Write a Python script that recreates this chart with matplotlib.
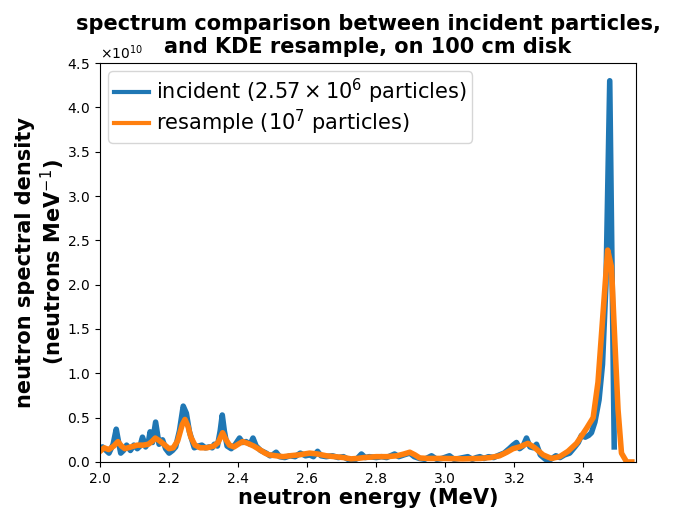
"""Incident neutron spectrum vs KDE resample on a 100 cm disk."""

import matplotlib
matplotlib.use('Agg')
import matplotlib.pyplot as plt
import numpy as np

SCALE = 1e10

# incident spectrum (MeV, units of 1e10 neutrons/MeV)
incident_energy = [
    2.000, 2.007, 2.015, 2.026, 2.038, 2.047, 2.054, 2.060, 2.068, 2.077,
    2.088, 2.098, 2.108, 2.116, 2.123, 2.132, 2.140, 2.145, 2.152, 2.161,
    2.171, 2.181, 2.190, 2.200, 2.210, 2.219, 2.230, 2.241, 2.250, 2.259,
    2.273, 2.285, 2.295, 2.305, 2.317, 2.325, 2.331, 2.340, 2.348, 2.354,
    2.360, 2.368, 2.380, 2.392, 2.404, 2.413, 2.423, 2.435, 2.443, 2.452,
    2.465, 2.481, 2.492, 2.500, 2.510, 2.520, 2.535, 2.550, 2.565, 2.580,
    2.595, 2.607, 2.618, 2.630, 2.640, 2.655, 2.673, 2.690, 2.705, 2.718,
    2.730, 2.745, 2.757, 2.768, 2.780, 2.800, 2.815, 2.830, 2.853, 2.865,
    2.880, 2.897, 2.910, 2.925, 2.940, 2.960, 2.975, 2.990, 3.012, 3.025,
    3.040, 3.065, 3.078, 3.090, 3.100, 3.112, 3.125, 3.140, 3.157, 3.170,
    3.185, 3.196, 3.206, 3.215, 3.225, 3.235, 3.245, 3.255, 3.264, 3.275,
    3.290, 3.305, 3.320, 3.332, 3.345, 3.360, 3.375, 3.385, 3.394, 3.405,
    3.415, 3.423, 3.433, 3.445, 3.455, 3.465, 3.476, 3.489,
]
incident_density = [
    0.15, 0.17, 0.14, 0.10, 0.20, 0.37, 0.22, 0.10, 0.13, 0.19,
    0.13, 0.19, 0.15, 0.18, 0.28, 0.17, 0.22, 0.34, 0.22, 0.45,
    0.20, 0.25, 0.15, 0.10, 0.13, 0.17, 0.35, 0.63, 0.55, 0.34,
    0.16, 0.18, 0.19, 0.16, 0.17, 0.16, 0.20, 0.18, 0.35, 0.53,
    0.35, 0.18, 0.15, 0.20, 0.27, 0.22, 0.23, 0.20, 0.27, 0.18,
    0.13, 0.10, 0.07, 0.08, 0.11, 0.06, 0.05, 0.07, 0.06, 0.10,
    0.07, 0.08, 0.06, 0.12, 0.07, 0.06, 0.07, 0.05, 0.06, 0.03,
    0.01, 0.04, 0.09, 0.05, 0.06, 0.05, 0.06, 0.05, 0.09, 0.06,
    0.08, 0.10, 0.06, 0.04, 0.03, 0.07, 0.03, 0.04, 0.07, 0.03,
    0.04, 0.06, 0.03, 0.05, 0.06, 0.04, 0.06, 0.05, 0.08, 0.10,
    0.15, 0.19, 0.22, 0.15, 0.18, 0.27, 0.17, 0.16, 0.20, 0.08,
    0.03, 0.03, 0.07, 0.05, 0.08, 0.10, 0.17, 0.22, 0.30, 0.28,
    0.30, 0.33, 0.45, 0.70, 1.10, 2.00, 4.30, 0.17,
]

# KDE resample spectrum
resample_energy = [
    2.000, 2.012, 2.025, 2.040, 2.052, 2.062, 2.072, 2.090, 2.108, 2.125,
    2.140, 2.150, 2.160, 2.172, 2.185, 2.200, 2.212, 2.225, 2.238, 2.246,
    2.255, 2.263, 2.275, 2.290, 2.310, 2.330, 2.342, 2.355, 2.365, 2.375,
    2.388, 2.400, 2.413, 2.428, 2.445, 2.462, 2.478, 2.490, 2.510, 2.530,
    2.550, 2.575, 2.607, 2.630, 2.655, 2.680, 2.705, 2.727, 2.745, 2.765,
    2.800, 2.830, 2.860, 2.880, 2.897, 2.912, 2.926, 2.950, 3.000, 3.050,
    3.100, 3.130, 3.157, 3.178, 3.196, 3.215, 3.239, 3.259, 3.283, 3.307,
    3.331, 3.355, 3.380, 3.409, 3.428, 3.442, 3.457, 3.470, 3.481, 3.491,
    3.500, 3.510, 3.525, 3.540,
]
resample_density = [
    0.12, 0.16, 0.14, 0.18, 0.23, 0.18, 0.15, 0.17, 0.19, 0.19,
    0.20, 0.23, 0.27, 0.24, 0.20, 0.15, 0.16, 0.24, 0.42, 0.48,
    0.40, 0.28, 0.19, 0.16, 0.16, 0.18, 0.22, 0.33, 0.25, 0.19,
    0.17, 0.20, 0.23, 0.21, 0.18, 0.14, 0.10, 0.08, 0.07, 0.06,
    0.07, 0.08, 0.10, 0.09, 0.07, 0.06, 0.05, 0.035, 0.04, 0.05,
    0.06, 0.06, 0.07, 0.09, 0.11, 0.08, 0.045, 0.04, 0.04, 0.035,
    0.04, 0.05, 0.07, 0.11, 0.15, 0.17, 0.21, 0.16, 0.08, 0.04,
    0.06, 0.12, 0.21, 0.38, 0.50, 0.90, 1.70, 2.39, 2.20, 1.34,
    0.59, 0.10, 0.00, 0.00,
]


def main():
    fig = plt.figure(figsize=(6.73, 5.14), dpi=100)
    ax = fig.add_axes([0.1486, 0.1012, 0.7964, 0.7762])

    ax.plot(incident_energy, np.array(incident_density) * SCALE,
            color='#1f77b4', linewidth=4,
            label=r'incident ($2.57 \times 10^6$ particles)')
    ax.plot(resample_energy, np.array(resample_density) * SCALE,
            color='#ff7f0e', linewidth=4,
            label=r'resample ($10^7$ particles)')

    ax.set_xlim(2.0, 3.552)
    ax.set_ylim(0, 4.5e10)
    ax.ticklabel_format(axis='y', style='sci', scilimits=(0, 0),
                        useMathText=True)
    ax.set_xticks(np.arange(2.0, 3.45, 0.2))
    ax.set_yticks(np.arange(0, 4.51e10, 0.5e10))

    ax.set_xlabel('neutron energy (MeV)', fontsize=15, fontweight='bold',
                  labelpad=2)
    ax.set_ylabel('neutron spectral density\n(neutrons MeV$^{-1}$)',
                  fontsize=15, fontweight='bold', labelpad=0)
    # fixed y keeps the title from being pushed above the offset text
    ax.set_title('spectrum comparison between incident particles,\n'
                 'and KDE resample, on 100 cm disk',
                 fontsize=15, fontweight='bold', y=1.0, pad=7)
    leg = ax.legend(loc='upper left', fontsize=15, labelspacing=0.12,
                    handlelength=1.7, handletextpad=0.35, borderpad=0.25,
                    borderaxespad=0.4)
    for line in leg.get_lines():
        line.set_linewidth(3)

    fig.savefig('out.png', dpi=100)


if __name__ == '__main__':
    main()
